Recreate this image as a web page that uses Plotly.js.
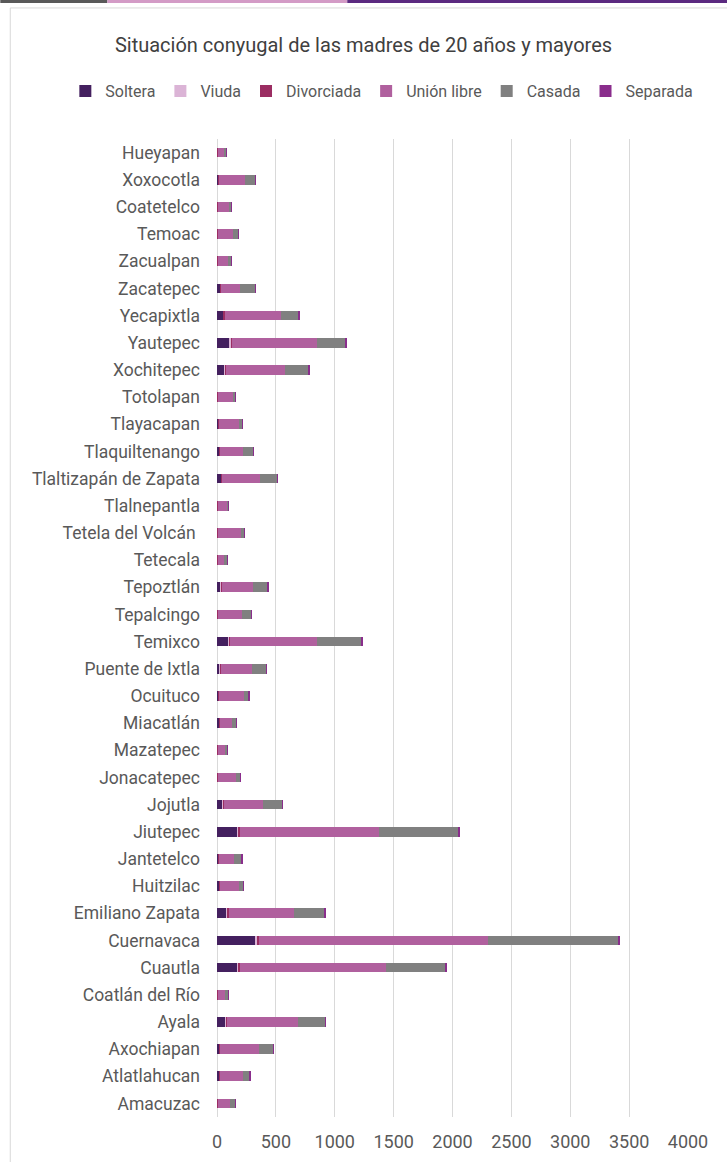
<!DOCTYPE html>
<html>
<head>
<meta charset="utf-8">
<script src="https://cdn.plot.ly/plotly-3.0.1.min.js"></script>
<style>html,body{margin:0;padding:0;background:#fff;}#chart{width:727px;height:1162px;}</style>
</head>
<body>
<div id="chart"></div>
<script>
// Categories listed bottom-to-top (Plotly draws first category at the bottom)
const municipios = ["Amacuzac","Atlatlahucan","Axochiapan","Ayala","Coatlán del Río","Cuautla","Cuernavaca","Emiliano Zapata","Huitzilac","Jantetelco","Jiutepec","Jojutla","Jonacatepec","Mazatepec","Miacatlán","Ocuituco","Puente de Ixtla","Temixco","Tepalcingo","Tepoztlán","Tetecala","Tetela del Volcán ","Tlalnepantla","Tlaltizapán de Zapata","Tlaquiltenango","Tlayacapan","Totolapan","Xochitepec","Yautepec","Yecapixtla","Zacatepec","Zacualpan","Temoac","Coatetelco","Xoxocotla","Hueyapan"];

const soltera    = [4,18,18,68,2,172,320,84,18,10,170,46,4,2,22,10,22,94,4,30,2,4,2,36,18,10,2,60,110,52,26,2,4,2,10,3];
const viuda      = [3,4,5,10,2,14,22,9,4,4,16,7,3,2,3,4,5,12,4,5,2,4,2,6,4,4,2,8,12,7,5,2,3,2,5,2];
const divorciada = [2,3,4,6,1,10,16,6,2,2,12,5,2,1,2,2,4,8,3,4,1,3,1,4,3,2,1,6,9,5,3,1,2,1,3,1];
const unionLibre = [104,196,330,600,66,1240,1945,556,162,126,1180,330,152,66,104,210,264,734,198,264,55,190,83,322,193,172,134,500,716,482,165,88,126,98,222,58];
const casada     = [44,58,122,236,27,505,1105,262,41,70,675,164,39,19,36,44,123,378,86,128,27,30,11,142,94,30,19,206,243,150,129,33,44,19,83,14];
const separada   = [2,2,3,4,1,6,8,4,2,2,8,4,2,1,2,2,3,6,2,3,1,2,1,4,2,2,1,4,6,4,2,1,2,1,2,1];

const serieNames  = ["Soltera","Viuda","Divorciada","Unión libre","Casada","Separada"];
const serieValues = [soltera, viuda, divorciada, unionLibre, casada, separada];
const serieColors = ["#44205f","#dbb4d6","#9b2d62","#b0609e","#808080","#8a2d8c"];

const traces = serieNames.map((n, i) => ({
  type: "bar",
  orientation: "h",
  name: n,
  y: municipios,
  x: serieValues[i],
  marker: {color: serieColors[i], line: {width: 0}},
  hoverinfo: "x+y+name"
}));

const FONT = "Roboto, 'Liberation Sans', sans-serif";

const layout = {
  width: 727,
  height: 1162,
  autosize: false,
  barmode: "stack",
  bargap: 0.64,
  paper_bgcolor: "#ffffff",
  plot_bgcolor: "#ffffff",
  margin: {l: 217, r: 39, t: 139, b: 45, pad: 0, autoexpand: false},
  font: {family: FONT, size: 16, color: "#595959"},
  title: {
    text: "Situación conyugal de las madres de 20 años y mayores",
    font: {family: FONT, size: 20, color: "#404040"},
    x: 0.5, xanchor: "center", xref: "container",
    y: 0.961, yanchor: "middle", yref: "container"
  },
  showlegend: true,
  legend: {
    orientation: "h",
    xref: "paper",
    x: -0.322, xanchor: "left",
    y: 1.049, yanchor: "middle",
    font: {family: FONT, size: 16, color: "#595959"},
    traceorder: "normal",
    bgcolor: "rgba(0,0,0,0)"
  },
  xaxis: {
    range: [0, 4000],
    dtick: 500,
    tick0: 0,
    showgrid: true,
    gridcolor: "#d9d9d9",
    gridwidth: 1.2,
    zeroline: true,
    zerolinecolor: "#d9d9d9",
    zerolinewidth: 1.2,
    showline: false,
    ticks: "",
    automargin: false,
    ticklabelstandoff: 12,
    tickfont: {family: FONT, size: 18, color: "#595959"},
    fixedrange: true
  },
  yaxis: {
    type: "category",
    showgrid: false,
    zeroline: false,
    showline: false,
    ticks: "",
    automargin: false,
    ticklabelstandoff: 16,
    tickfont: {family: FONT, size: 17.5, color: "#595959"},
    fixedrange: true
  },
  shapes: [
    {type: "rect", xref: "paper", yref: "paper", x0: -0.4389, x1: 1.2, y0: -0.2, y1: 1.134,
     line: {color: "#d9d9d9", width: 1}, fillcolor: "rgba(0,0,0,0)", layer: "below"},
    {type: "rect", xref: "paper", yref: "paper", x0: -0.4601, x1: -0.2328, y0: 1.1391, y1: 1.1432,
     line: {width: 0}, fillcolor: "#595959"},
    {type: "rect", xref: "paper", yref: "paper", x0: -0.2328, x1: 0.2766, y0: 1.1391, y1: 1.1432,
     line: {width: 0}, fillcolor: "#d39bc6"},
    {type: "rect", xref: "paper", yref: "paper", x0: 0.2766, x1: 1.1, y0: 1.1391, y1: 1.1432,
     line: {width: 0}, fillcolor: "#5b2a80"}
  ]
};

Plotly.newPlot("chart", traces, layout, {displayModeBar: false});
</script>
</body>
</html>
